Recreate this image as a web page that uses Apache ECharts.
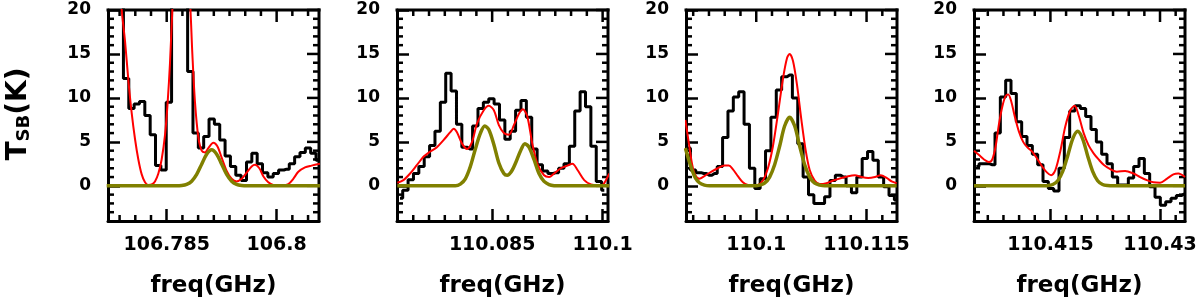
<!DOCTYPE html>
<html><head><meta charset="utf-8">
<script src="https://cdn.jsdelivr.net/npm/echarts@6/dist/echarts.min.js"></script>
<style>html,body{margin:0;padding:0;background:#fff}#chart{width:1200px;height:307px}</style>
</head><body><div id="chart"></div>
<script>
// ---------------- DATA ----------------
const chanWidth = 0.00073; // GHz per spectral channel
const yTickLabels = [0, 5, 10, 15, 20];
const yRange = [-4, 20];

// Panel 1
const p1Range = [106.77699, 106.80578];
const p1Ticks = [106.785, 106.8];
const p1ChanStart = 106.77727;
const p1Spec = [30,30,30,12.2,8.8,9.3,9.6,8.0,5.8,2.3,1.8,9.5,30,30,30,13,6.0,4.3,5.6,7.6,7.0,5.2,3.4,2.2,1.2,0.6,2.7,3.7,2.5,1.5,1.0,1.4,1.8,1.9,2.5,3.3,3.8,4.3,3.7,2.9];
const p1ModelFreq = [106.77840,106.77886,106.77931,106.77977,106.78022,106.78068,106.78113,106.78159,106.78204,106.78249,106.78295,106.78340,106.78386,106.78431,106.78477,106.78513,106.78545,106.78577,106.78613,106.78704,106.78818,106.78850,106.78886,106.78932,106.78977,106.79022,106.79068,106.79136,106.79191,106.79250,106.79318,106.79386,106.79454,106.79523,106.79591,106.79659,106.79705,106.79764,106.79818,106.79886,106.79955,106.80068,106.80159,106.80227,106.80296,106.80387,106.80477,106.80591];
const p1ModelT = [26,20,16.5,12,8.3,5.3,3.0,1.3,0.4,0.1,0.15,0.5,1.4,3.0,5.8,9.5,14,20,26,35,21,15,9.5,5.5,4.0,3.8,4.3,4.9,4.5,3.2,1.7,0.8,0.5,0.8,1.5,2.2,2.4,2.0,1.1,0.4,0.1,0.05,0.2,0.8,1.6,2.1,2.3,2.5];
const p1FitFreq = [106.77681,106.78636,106.78704,106.78772,106.78841,106.78909,106.78977,106.79045,106.79113,106.79182,106.79250,106.79318,106.79386,106.79454,106.79523,106.79591,106.79659,106.80591];
const p1FitT = [0,0,0.04,0.17,0.53,1.3,2.46,3.6,4.1,3.6,2.46,1.3,0.53,0.17,0.04,0,0,0];

// Panel 2
const p2Range = [110.07208, 110.10073];
const p2Ticks = [110.085, 110.1];
const p2ChanStart = 110.07249;
const p2Spec = [-1.4,-0.5,0.7,1.4,2.2,3.3,4.6,6.2,9.5,12.8,10.8,7.0,4.4,4.2,6.8,8.8,9.5,9.9,9.3,7.5,5.3,6.2,8.6,9.7,7.8,4.2,2.4,1.7,1.4,1.5,2.0,2.5,4.5,8.5,10.7,9.0,4.5,0.5,-0.5];
const p2ModelFreq = [110.07213,110.07295,110.07386,110.07477,110.07568,110.07659,110.07750,110.07840,110.07931,110.07977,110.08022,110.08091,110.08159,110.08227,110.08295,110.08386,110.08454,110.08523,110.08591,110.08659,110.08727,110.08795,110.08864,110.08918,110.08977,110.09045,110.09114,110.09205,110.09273,110.09341,110.09432,110.09523,110.09591,110.09659,110.09750,110.09841,110.09932,110.10000,110.10046,110.10091];
const p2ModelT = [0.35,0.65,1.4,2.35,3.3,3.9,4.4,5.2,6.1,6.5,6.1,4.8,4.2,5.0,7.1,8.6,9.1,8.6,6.9,6.0,5.8,6.9,8.2,8.7,7.9,4.8,2.5,1.2,1.0,1.4,2.0,2.3,2.5,1.8,0.65,0.15,0.05,0.1,0.65,1.4];
const p2FitFreq = [110.07213,110.07931,110.08000,110.08068,110.08136,110.08204,110.08272,110.08341,110.08400,110.08454,110.08523,110.08591,110.08659,110.08704,110.08759,110.08818,110.08886,110.08945,110.09000,110.09068,110.09136,110.09205,110.09273,110.09341,110.09409,110.09500,110.10091];
const p2FitT = [0,0,0,0.2,0.8,2.2,4.2,6.0,6.8,6.4,4.7,2.6,1.4,1.2,1.6,2.6,4.0,4.8,4.4,3.0,1.4,0.5,0.15,0.02,0,0,0];

// Panel 3
const p3Range = [110.09045, 110.11914];
const p3Ticks = [110.1, 110.115];
const p3ChanStart = 110.09068;
const p3Spec = [4.3,1.8,1.5,1.4,1.2,1.4,2.2,5.5,8.5,10.1,10.7,7.0,2.0,-0.3,0.8,4.0,7.8,10.9,12.4,12.6,10.0,4.8,1.0,-1.0,-2.0,-2.0,-1.25,0.6,1.2,1.0,0.0,-0.8,1.0,3.1,3.9,2.9,1.0,-0.1,-1.1,-1.6];
const p3ModelFreq = [110.09036,110.09081,110.09127,110.09172,110.09227,110.09295,110.09386,110.09477,110.09568,110.09627,110.09681,110.09750,110.09818,110.09886,110.09954,110.10022,110.10091,110.10159,110.10227,110.10295,110.10364,110.10418,110.10454,110.10500,110.10554,110.10614,110.10673,110.10727,110.10795,110.10864,110.10955,110.11046,110.11159,110.11250,110.11341,110.11432,110.11523,110.11614,110.11691,110.11773,110.11841,110.11909];
const p3ModelT = [7.5,5.0,2.5,1.2,0.8,1.1,1.6,2.0,2.3,2.3,1.9,1.1,0.4,0.1,0.05,0.1,0.6,2.0,4.5,8.2,12.2,14.5,15.0,14.2,11.5,7.5,4.0,1.8,0.6,0.2,0.3,0.6,0.9,1.1,1.2,1.0,0.9,1.0,1.2,0.9,0.5,0.3];
const p3FitFreq = [110.09036,110.09081,110.09127,110.09172,110.09227,110.09295,110.09363,110.09450,110.09932,110.10000,110.10045,110.10113,110.10182,110.10250,110.10318,110.10386,110.10454,110.10523,110.10591,110.10659,110.10727,110.10795,110.10864,110.10932,110.11000,110.11909];
const p3FitT = [4.3,3.0,1.8,0.9,0.35,0.08,0,0,0,0,0.08,0.3,1.0,2.4,4.5,6.8,7.8,6.8,4.5,2.4,1.0,0.3,0.08,0,0,0];

// Panel 4
const p4Range = [110.40454, 110.43342];
const p4Ticks = [110.415, 110.43];
const p4ChanStart = 110.40486;
const p4Spec = [2.2,2.5,2.5,2.4,6.0,10.1,12.0,10.5,7.3,5.6,4.6,3.6,2.4,0.5,-0.3,-0.6,2.0,5.5,8.5,9.1,8.8,7.9,6.4,5.0,3.6,2.5,1.0,0.1,0.1,0.9,2.2,3.1,1.4,-0.1,-1.3,-2.2,-1.8,-1.4,-1.1,-0.9];
const p4ModelFreq = [110.40454,110.40523,110.40591,110.40659,110.40704,110.40750,110.40795,110.40841,110.40886,110.40923,110.40964,110.41009,110.41068,110.41127,110.41182,110.41250,110.41318,110.41387,110.41455,110.41509,110.41568,110.41637,110.41705,110.41773,110.41832,110.41887,110.41955,110.42023,110.42091,110.42160,110.42228,110.42319,110.42410,110.42523,110.42637,110.42728,110.42819,110.42910,110.43001,110.43092,110.43183,110.43251,110.43342];
const p4ModelT = [4.0,3.5,3.0,2.7,3.0,4.5,7.0,9.0,10.2,10.4,9.6,8.0,6.2,5.0,4.4,3.9,3.1,2.2,1.5,1.2,1.8,4.0,6.8,8.6,9.1,8.0,6.0,4.6,3.7,3.0,2.4,1.9,1.6,1.7,1.4,1.0,0.65,0.4,0.35,0.8,1.3,1.4,1.0];
const p4FitFreq = [110.40454,110.41386,110.41455,110.41532,110.41600,110.41668,110.41737,110.41805,110.41873,110.41941,110.42009,110.42078,110.42146,110.42214,110.42282,110.42364,110.42450,110.43342];
const p4FitT = [0,0,0.02,0.15,0.58,1.64,3.43,5.35,6.2,5.35,3.43,1.64,0.58,0.15,0.03,0,0,0];

const xTitle = 'freq(GHz)';

// ---------------- BUILD ----------------
const panels = [
  {range:p1Range, ticks:p1Ticks, start:p1ChanStart, spec:p1Spec, mf:p1ModelFreq, mt:p1ModelT, ff:p1FitFreq, ft:p1FitT},
  {range:p2Range, ticks:p2Ticks, start:p2ChanStart, spec:p2Spec, mf:p2ModelFreq, mt:p2ModelT, ff:p2FitFreq, ft:p2FitT},
  {range:p3Range, ticks:p3Ticks, start:p3ChanStart, spec:p3Spec, mf:p3ModelFreq, mt:p3ModelT, ff:p3FitFreq, ft:p3FitT},
  {range:p4Range, ticks:p4Ticks, start:p4ChanStart, spec:p4Spec, mf:p4ModelFreq, mt:p4ModelT, ff:p4FitFreq, ft:p4FitT}
];
const gridLefts = [108, 397, 686, 974];
const PLOT = 211;
const FONT = 'DejaVu Sans';

function minorX(range, majors, n) {
  const step = (majors[1] - majors[0]) / n, out = [];
  for (let v = majors[0] - step; v > range[0]; v -= step) out.push(v);
  for (let i = 0; i < majors.length - 1; i++) for (let j = 1; j < n; j++) out.push(majors[i] + j * step);
  for (let v = majors[majors.length - 1] + step; v < range[1]; v += step) out.push(v);
  return out;
}
const yMinor = [];
for (let v = yRange[0] + 1; v < yRange[1]; v++) if (v % 5 !== 0) yMinor.push(v);

const grids = [], xAxes = [], yAxes = [], series = [], titles = [];
panels.forEach((p, i) => {
  grids.push({left: gridLefts[i], top: 10, width: PLOT, height: PLOT});
  xAxes.push({
    type:'value', gridIndex:i, position:'bottom', min:p.range[0], max:p.range[1],
    axisLine:{show:true, onZero:false, lineStyle:{color:'#000', width:3}}, splitLine:{show:false},
    axisTick:{show:true, inside:true, length:12, customValues:p.ticks, lineStyle:{color:'#000', width:2.5}},
    axisLabel:{show:true, customValues:p.ticks, margin:15, color:'#000', fontFamily:FONT, fontWeight:'bold', fontSize:19,
      formatter: v => String(+(+v).toFixed(4))}
  });
  yAxes.push({
    type:'value', gridIndex:i, position:'left', min:yRange[0], max:yRange[1],
    axisLine:{show:true, onZero:false, lineStyle:{color:'#000', width:3}}, splitLine:{show:false},
    axisTick:{show:true, inside:true, length:12, customValues:yTickLabels, lineStyle:{color:'#000', width:2.5}},
    axisLabel:{show:true, customValues:yTickLabels, margin:17, color:'#000', fontFamily:FONT, fontWeight:'bold', fontSize:17}
  });
  titles.push({
    text: xTitle, left: gridLefts[i] + PLOT / 2, top: 275, textAlign:'center', padding:0,
    textStyle:{color:'#000', fontFamily:FONT, fontWeight:'bold', fontSize:23}
  });
  series.push({
    type:'line', xAxisIndex:i, yAxisIndex:i, step:'middle', symbol:'none', clip:true,
    lineStyle:{color:'#000', width:3},
    data: p.spec.map((t, k) => [p.start + k * chanWidth, t])
  });
  series.push({
    type:'line', xAxisIndex:i, yAxisIndex:i, smooth:0.3, symbol:'none', clip:true,
    lineStyle:{color:'#ff0000', width:2},
    data: p.mf.map((f, k) => [f, p.mt[k]])
  });
  series.push({
    type:'line', xAxisIndex:i, yAxisIndex:i, smooth:0.3, symbol:'none', clip:true,
    lineStyle:{color:'#808000', width:3.5},
    data: p.ff.map((f, k) => [f, p.ft[k]])
  });
});

const chart = echarts.init(document.getElementById('chart'));
chart.setOption({
  animation:false,
  backgroundColor:'#fff',
  title: titles, grid: grids, xAxis: xAxes, yAxis: yAxes, series: series
});

// frame (top/right sides) and the remaining inward ticks, placed through each panel's own axes
const frameEls = [];
let nid = 0;
panels.forEach((p, i) => {
  const finder = {xAxisIndex: i, yAxisIndex: i};
  const px = (x, y) => chart.convertToPixel(finder, [x, y]);
  const seg = (a, b, w, cap) => frameEls.push({type:'line', id:'f' + (nid++),
    shape:{x1:a[0], y1:a[1], x2:b[0], y2:b[1]}, style:{stroke:'#000', lineWidth:w, lineCap:cap || 'butt'}});
  const tl = px(p.range[0], yRange[1]), tr = px(p.range[1], yRange[1]), br = px(p.range[1], yRange[0]);
  seg(tl, tr, 3, 'square');
  seg(tr, br, 3, 'square');
  const xTick = (v, L, bottom) => {
    const b = px(v, yRange[0]), t = px(v, yRange[1]);
    if (bottom) seg(b, [b[0], b[1] - L], 2.5);
    seg(t, [t[0], t[1] + L], 2.5);
  };
  const yTick = (v, L, left) => {
    const l = px(p.range[0], v), r = px(p.range[1], v);
    if (left) seg(l, [l[0] + L, l[1]], 2.5);
    seg(r, [r[0] - L, r[1]], 2.5);
  };
  p.ticks.forEach(v => xTick(v, 12, false));
  minorX(p.range, p.ticks, 7).forEach(v => xTick(v, 6, true));
  yTickLabels.forEach(v => yTick(v, 12, false));
  yMinor.forEach(v => yTick(v, 6, true));
});
chart.setOption({graphic: {elements: frameEls}});

// rotated y-axis title with subscript
try {
  chart.setOption({graphic: {elements: [{
    type:'text', id:'ytitle', x:18, y:114, rotation:Math.PI / 2,
    style:{
      text:'{t|T}{s|SB}{t|(K)}', align:'center', verticalAlign:'middle', fill:'#000',
      rich:{
        t:{fontSize:28, lineHeight:30, verticalAlign:'bottom', fontFamily:FONT, fontWeight:'bold', fill:'#000'},
        s:{fontSize:18, lineHeight:18, verticalAlign:'bottom', fontFamily:FONT, fontWeight:'bold', fill:'#000'}
      }
    }
  }]}});
} catch (e) {}
</script>
</body></html>
